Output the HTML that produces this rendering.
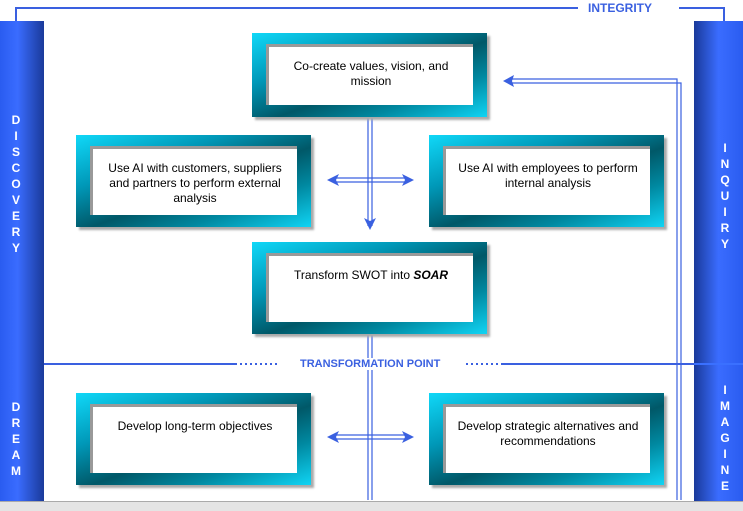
<!DOCTYPE html>
<html><head><style>
body{margin:0;width:743px;height:510px;overflow:hidden;background:#fff;position:relative;font-family:"Liberation Sans",sans-serif}
.col{position:absolute;top:21px;height:480px;background:linear-gradient(90deg,#2a5cf0 0%,#3a6cff 40%,#1a3a9a 100%);color:#fff;font-weight:bold;font-size:12px;text-align:center;line-height:16px}
.colr{background:linear-gradient(90deg,#1a3a9a 0%,#3a6cff 50%,#2a5cf0 100%)}
.box{position:absolute;width:235px;height:92px;background:linear-gradient(160deg,#10d8f8 0%,#0098b8 30%,#005868 55%,#0088a0 75%,#10d4f4 100%);box-shadow:3px 3px 2px #aaa}
.in{position:absolute;left:14px;top:11px;right:14px;bottom:12px;background:#fff;border-top:3px solid #999;border-left:3px solid #999;font-size:12px;text-align:center;padding-top:12px;line-height:15px;box-sizing:border-box;color:#000}
.lbl{position:absolute;color:#3a60e0;font-weight:bold;font-size:11px;background:#fff}
</style></head><body>
<svg width="743" height="510" style="position:absolute;left:0;top:0">
<g stroke="#3a60e0" fill="none">
<path d="M16 21 V8 H578" stroke-width="2"/>
<path d="M679 8 H724 V21" stroke-width="2"/>
<path d="M368 117 V226 M372 117 V226" stroke-width="1.2"/>
<path d="M368 333 V500 M372 333 V500" stroke-width="1.2"/>
<path d="M510 79 H677 V500 M510 83 H681 V500" stroke-width="1.2"/>
<path d="M334 178 H407 M334 182 H407" stroke-width="1.2"/>
<path d="M334 435 H407 M334 439 H407" stroke-width="1.2"/>
<path d="M44 364 H237 M502 364 H694" stroke-width="2"/>
<path d="M240 364 H278 M466 364 H502" stroke-width="2" stroke-dasharray="2 3"/>
</g>
<g fill="#3a60e0">
<polygon points="503,81 514,75 512,81 514,87"/>
<polygon points="327,180 339,174 336,180 339,186"/>
<polygon points="414,180 402,174 405,180 402,186"/>
<polygon points="327,437 339,431 336,437 339,443"/>
<polygon points="414,437 402,431 405,437 402,443"/>
<polygon points="370,230 364,218 370,221 376,218"/>
</g>
</svg>
<div class="lbl" style="left:588px;top:1px;font-size:12px">INTEGRITY</div>
<div class="lbl" style="left:298px;top:358px;padding:0 2px">TRANSFORMATION POINT</div>
<div class="col" style="left:0;width:44px"><div style="position:absolute;top:91px;width:32px">D<br>I<br>S<br>C<br>O<br>V<br>E<br>R<br>Y</div><div style="position:absolute;top:378px;width:32px">D<br>R<br>E<br>A<br>M</div></div>
<div class="col colr" style="left:694px;width:49px"><div style="position:absolute;top:119px;width:62px">I<br>N<br>Q<br>U<br>I<br>R<br>Y</div><div style="position:absolute;top:361px;width:62px">I<br>M<br>A<br>G<br>I<br>N<br>E</div></div>
<svg width="743" height="510" style="position:absolute;left:0;top:0;pointer-events:none"><path d="M694 364 H743" stroke="#3a70ff" stroke-width="2"/></svg>
<div class="box" style="left:252px;top:33px;height:84px"><div class="in">Co-create values, vision, and<br>mission</div></div>
<div class="box" style="left:76px;top:135px"><div class="in">Use AI with customers, suppliers<br>and partners to perform external<br>analysis</div></div>
<div class="box" style="left:429px;top:135px"><div class="in">Use AI with employees to perform<br>internal analysis</div></div>
<div class="box" style="left:252px;top:242px"><div class="in">Transform SWOT into <b><i>SOAR</i></b></div></div>
<div class="box" style="left:76px;top:393px"><div class="in">Develop long-term objectives</div></div>
<div class="box" style="left:429px;top:393px"><div class="in">Develop strategic alternatives and<br>recommendations</div></div>
<div style="position:absolute;left:0;top:501px;width:743px;height:9px;background:#e4e4e4;border-top:1px solid #aaa"></div>
</body></html>
